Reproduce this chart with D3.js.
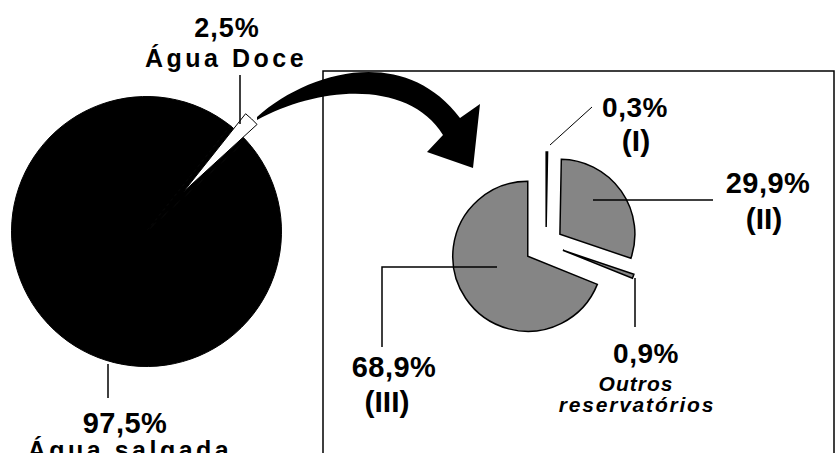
<!DOCTYPE html>
<html>
<head>
<meta charset="utf-8">
<script src="https://cdn.jsdelivr.net/npm/d3@7"></script>
<style>
  body { margin: 0; background: #fff; }
  svg { display: block; }
  text { font-family: "Liberation Sans", Arial, sans-serif; font-weight: bold; fill: #000; }
</style>
</head>
<body>
<svg id="chart" width="836" height="453"></svg>
<script>
// data
const bigNames = ["Água Doce", "Água salgada"];
const bigValues = [2.5, 97.5];
const smallNames = ["(I)", "(II)", "Outros reservatórios", "(III)"];
const smallValues = [0.3, 29.9, 0.9, 68.9];

const pct = v => d3.format(".1f")(v).replace(".", ",") + "%";
const deg = Math.PI / 180;
const svg = d3.select("#chart");

// frame around the detail pie
svg.append("rect")
  .attr("x", 323).attr("y", 71)
  .attr("width", 511).attr("height", 420)
  .attr("fill", "none").attr("stroke", "#000").attr("stroke-width", 1.5);

// big pie: salt vs fresh water
const R = 135;
const big = svg.append("g").attr("transform", "translate(146.5,231.5)");
const bigPie = d3.pie().sort(null).startAngle(38.5 * deg).endAngle(398.5 * deg);
const bigArcs = bigPie(bigValues);

big.selectAll("path.base")
  .data(bigArcs)
  .enter().append("path")
    .attr("class", "base")
    .attr("d", d3.arc().innerRadius(0).outerRadius(R))
    .attr("fill", "#000")
    .attr("stroke", "#000")
    .attr("stroke-width", 1);

// fresh water slice pulled out
const doce = bigArcs[0];
const midD = (doce.startAngle + doce.endAngle) / 2;
big.append("path")
  .attr("transform", "translate(" + 54 * Math.sin(midD) + "," + (-54 * Math.cos(midD)) + ")")
  .attr("d", d3.arc().innerRadius(0).outerRadius(100)(doce))
  .attr("fill", "#fff")
  .attr("stroke", "#000")
  .attr("stroke-width", 1);

// curved arrow
svg.append("path")
  .attr("d", "M257,117 C310,70 405,45 460,118 L480,104 L473,168 L427,152 L443,135 C410,80 320,85 257,120 Z")
  .attr("fill", "#000");

// small pie: fresh water breakdown
const r = 75;
const explode = [17, 17, 18, 22];
const small = svg.append("g").attr("transform", "translate(546,244)");
const smallPie = d3.pie().sort(null);
const smallArc = d3.arc().innerRadius(0).outerRadius(r);

small.selectAll("path")
  .data(smallPie(smallValues))
  .enter().append("path")
    .attr("transform", (d, i) => {
      const a = (d.startAngle + d.endAngle) / 2;
      return "translate(" + explode[i] * Math.sin(a) + "," + (-explode[i] * Math.cos(a)) + ")";
    })
    .attr("d", smallArc)
    .attr("fill", "#858585")
    .attr("stroke", "#000")
    .attr("stroke-width", 1.5);

// leader lines
const leaders = [
  { pts: [[240, 75], [240, 124]], w: 1.5 },
  { pts: [[108, 364], [108, 398]], w: 1.5 },
  { pts: [[550, 145], [592, 107]], w: 1 },
  { pts: [[593, 200], [713, 200]], w: 1.5 },
  { pts: [[635, 278], [635, 327]], w: 1.5 },
  { pts: [[497, 267], [382, 267], [382, 347]], w: 1.5 }
];
svg.selectAll("path.leader")
  .data(leaders)
  .enter().append("path")
    .attr("class", "leader")
    .attr("d", d => d3.line()(d.pts))
    .attr("fill", "none")
    .attr("stroke", "#000")
    .attr("stroke-width", d => d.w);

// labels
function label(x, y, txt, size, ls, italic) {
  svg.append("text")
    .attr("x", x).attr("y", y)
    .attr("text-anchor", "middle")
    .style("font-size", size + "px")
    .style("letter-spacing", (ls || 0) + "px")
    .style("font-style", italic ? "italic" : "normal")
    .text(txt);
}

label(227, 37, pct(bigValues[0]), 27, 1);
label(226, 67, bigNames[0], 25, 3.5);
label(125, 433, pct(bigValues[1]), 29, 0.5);
label(130, 459, bigNames[1], 25, 3.5);

label(635, 117, pct(smallValues[0]), 28, 0.5);
label(636, 151, smallNames[0], 30, 0);
label(768, 193, pct(smallValues[1]), 29, 0.5);
label(764, 229, smallNames[1], 30, 0);
label(646, 363, pct(smallValues[2]), 28, 0.5);
const outros = smallNames[2].split(" ");
label(636, 391, outros[0], 21, 1, true);
label(637, 412, outros[1], 21, 1.8, true);
label(394, 377, pct(smallValues[3]), 29, 0.5);
label(387, 412, smallNames[3], 30, 0);
</script>
</body>
</html>
